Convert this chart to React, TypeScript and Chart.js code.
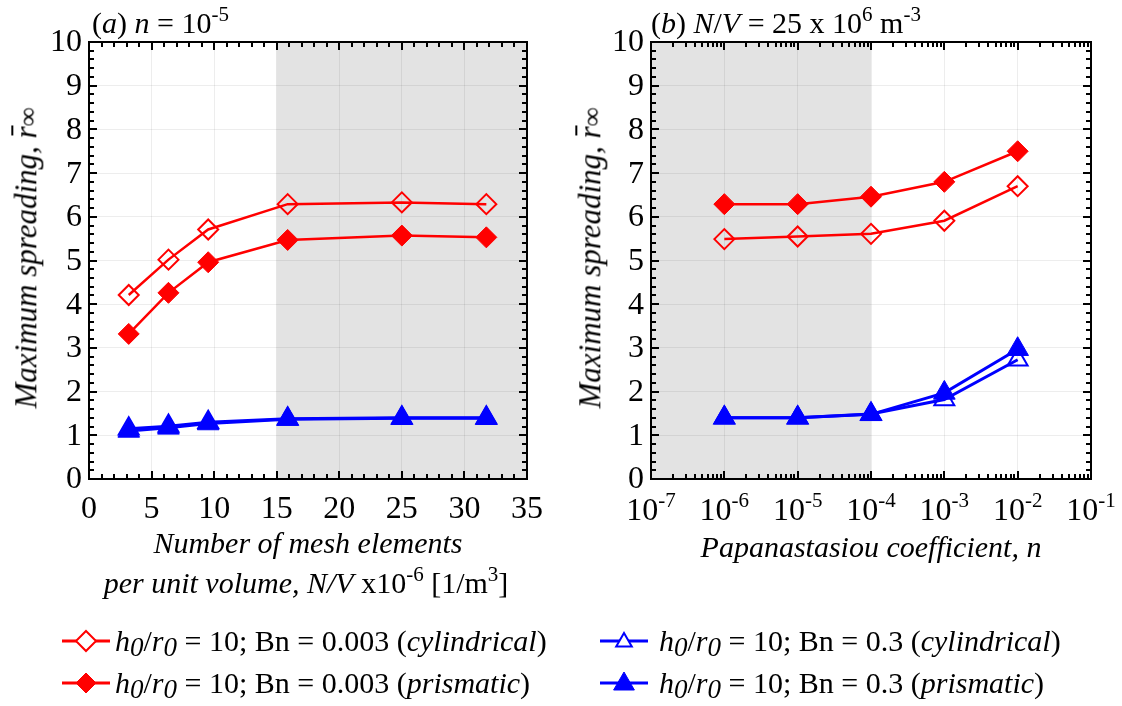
import React, { useEffect, useRef } from 'react';
import { Chart, registerables } from 'chart.js';

Chart.register(...registerables);

const FONT = "'Liberation Serif', 'Times New Roman', Times, serif";

// ---------- Panel (a): mesh density ----------
const meshX = [3.175, 6.35, 9.525, 15.875, 25, 31.75];
const aRedCyl = [4.21, 5.02, 5.71, 6.29, 6.33, 6.29];
const aRedPri = [3.32, 4.26, 4.96, 5.47, 5.57, 5.53];
const aBlueCyl = [1.15, 1.21, 1.3, 1.38, 1.4, 1.4];
const aBluePri = [1.1, 1.17, 1.27, 1.37, 1.39, 1.39];
const aXTicks = [0, 5, 10, 15, 20, 25, 30, 35];
const aShade = [15, 35];

// ---------- Panel (b): Papanastasiou coefficient ----------
const papN = [1e-6, 1e-5, 1e-4, 1e-3, 1e-2];
const bRedCyl = [5.49, 5.55, 5.61, 5.91, 6.7];
const bRedPri = [6.29, 6.29, 6.46, 6.8, 7.5];
const bBlueCyl = [1.4, 1.4, 1.49, 1.82, 2.73];
const bBluePri = [1.4, 1.4, 1.48, 1.97, 2.97];
const bXExps = [-7, -6, -5, -4, -3, -2, -1];
const bShade = [1e-7, 1e-4];

const yTicks = [0, 1, 2, 3, 4, 5, 6, 7, 8, 9, 10];

const RED = '#ff0000';
const BLUE = '#0000ff';
const CLEAR = 'rgba(255,255,255,0)';

type Box = { left: number; right: number; top: number; bottom: number };
const CANVAS_W = 561;
const CANVAS_H = 706;
const AREA_A: Box = { left: 89, right: 527, top: 42, bottom: 479 };
const AREA_B: Box = { left: 651 - 561, right: 1091 - 561, top: 42, bottom: 479 };
const TICK_FONT = 32;

function series(xs: number[], ys: number[]) {
  return xs.map((x, i) => ({ x, y: ys[i] }));
}

function datasets(xs: number[], rc: number[], rp: number[], bc: number[], bp: number[]) {
  return [
    {
      label: 'red-cyl', data: series(xs, rc), borderColor: RED, borderWidth: 2.5,
      pointStyle: 'rectRot', pointRadius: 10, pointBorderWidth: 2,
      pointBorderColor: RED, pointBackgroundColor: CLEAR, tension: 0,
    },
    {
      label: 'red-pri', data: series(xs, rp), borderColor: RED, borderWidth: 2.5,
      pointStyle: 'rectRot', pointRadius: 10.5, pointBorderWidth: 1,
      pointBorderColor: RED, pointBackgroundColor: RED, tension: 0,
    },
    {
      label: 'blue-cyl', data: series(xs, bc), borderColor: BLUE, borderWidth: 3,
      pointStyle: 'triangle', pointRadius: 11.5, pointBorderWidth: 2,
      pointBorderColor: BLUE, pointBackgroundColor: CLEAR, tension: 0,
    },
    {
      label: 'blue-pri', data: series(xs, bp), borderColor: BLUE, borderWidth: 3,
      pointStyle: 'triangle', pointRadius: 12.5, pointBorderWidth: 1,
      pointBorderColor: BLUE, pointBackgroundColor: BLUE, tension: 0,
    },
  ];
}

function decoPlugin(shade: number[], log: boolean) {
  return {
    id: 'deco',
    beforeDraw(chart: any) {
      const { ctx, chartArea: a } = chart;
      const x = chart.scales.x;
      const x0 = x.getPixelForValue(shade[0]);
      const x1 = x.getPixelForValue(shade[1]);
      ctx.save();
      ctx.fillStyle = '#e3e3e3';
      ctx.fillRect(x0, a.top, x1 - x0, a.bottom - a.top);
      ctx.restore();
    },
    afterDraw(chart: any) {
      const { ctx, chartArea: a } = chart;
      const xs = chart.scales.x;
      const ys = chart.scales.y;
      const MAJ = 8;
      const MIN = 5;
      ctx.save();
      ctx.strokeStyle = '#000';
      ctx.lineWidth = 2;
      ctx.lineCap = 'butt';
      // x ticks
      const xMaj: number[] = xs.ticks.map((t: any) => t.value);
      const xMin: number[] = [];
      if (log) {
        for (let i = 0; i < xMaj.length - 1; i++) {
          for (let k = 2; k <= 9; k++) xMin.push(xMaj[i] * k);
        }
      } else {
        for (let v = xs.min; v <= xs.max + 1e-9; v += 1) {
          if (!xMaj.some((m) => Math.abs(m - v) < 1e-9)) xMin.push(v);
        }
      }
      const vtick = (px: number, len: number) => {
        ctx.beginPath();
        ctx.moveTo(px, a.bottom);
        ctx.lineTo(px, a.bottom - len);
        ctx.moveTo(px, a.top);
        ctx.lineTo(px, a.top + len);
        ctx.stroke();
      };
      xMaj.forEach((v) => vtick(Math.round(xs.getPixelForValue(v)), MAJ));
      xMin.forEach((v) => vtick(Math.round(xs.getPixelForValue(v)), MIN));
      // y ticks
      const yMaj: number[] = ys.ticks.map((t: any) => t.value);
      const yMin: number[] = [];
      for (let i = 0; i < yMaj.length - 1; i++) {
        for (let k = 1; k < 5; k++) yMin.push(yMaj[i] + (k * (yMaj[i + 1] - yMaj[i])) / 5);
      }
      const htick = (py: number, len: number) => {
        ctx.beginPath();
        ctx.moveTo(a.left, py);
        ctx.lineTo(a.left + len, py);
        ctx.moveTo(a.right, py);
        ctx.lineTo(a.right - len, py);
        ctx.stroke();
      };
      yMaj.forEach((v) => htick(Math.round(ys.getPixelForValue(v)), MAJ));
      yMin.forEach((v) => htick(Math.round(ys.getPixelForValue(v)), MIN));
      // frame
      ctx.strokeRect(a.left, a.top, a.right - a.left, a.bottom - a.top);

      // tick labels
      ctx.fillStyle = '#000';
      ctx.font = `${TICK_FONT}px ${FONT}`;
      ctx.textAlign = 'right';
      ctx.textBaseline = 'middle';
      yMaj.forEach((v) => ctx.fillText(String(v), a.left - 7, ys.getPixelForValue(v) + 1));
      ctx.textBaseline = 'alphabetic';
      if (!log) {
        ctx.textAlign = 'center';
        xMaj.forEach((v) => ctx.fillText(String(v), xs.getPixelForValue(v), a.bottom + 39));
      } else {
        ctx.textAlign = 'left';
        xMaj.forEach((v) => {
          const e = Math.round(Math.log10(v));
          const base = '10';
          const sup = String(e);
          ctx.font = `${TICK_FONT}px ${FONT}`;
          const wb = ctx.measureText(base).width;
          ctx.font = `21px ${FONT}`;
          const ws = ctx.measureText(sup).width;
          const px = xs.getPixelForValue(v);
          const x0 = px - (wb + ws) / 2;
          ctx.font = `${TICK_FONT}px ${FONT}`;
          ctx.fillText(base, x0, a.bottom + 41);
          ctx.font = `21px ${FONT}`;
          ctx.fillText(sup, x0 + wb, a.bottom + 28);
        });
      }
      ctx.restore();
    },
  };
}

function makeConfig(
  area: Box,
  xScale: any,
  data: any[],
  shade: number[],
  log: boolean,
) {
  return {
    type: 'line' as const,
    data: { datasets: data },
    options: {
      responsive: false,
      animation: false,
      devicePixelRatio: 1,
      layout: {
        padding: {
          left: area.left,
          right: CANVAS_W - area.right,
          top: area.top,
          bottom: CANVAS_H - area.bottom,
        },
      },
      plugins: { legend: { display: false }, tooltip: { enabled: false } },
      scales: {
        x: {
          ...xScale,
          grid: { color: 'rgba(0,0,0,0.07)', lineWidth: 1, drawTicks: false },
          border: { display: false },
          afterFit: (s: any) => {
            s.height = 0;
          },
        },
        y: {
          type: 'linear',
          min: yTicks[0],
          max: yTicks[yTicks.length - 1],
          ticks: { display: false, stepSize: 1 },
          afterBuildTicks: (s: any) => {
            s.ticks = yTicks.map((v) => ({ value: v }));
          },
          grid: { color: 'rgba(0,0,0,0.07)', lineWidth: 1, drawTicks: false },
          border: { display: false },
          afterFit: (s: any) => {
            s.width = 0;
          },
        },
      },
    },
    plugins: [decoPlugin(shade, log)],
  };
}

function Panel({ left, config }: { left: number; config: any }) {
  const ref = useRef<HTMLCanvasElement | null>(null);
  useEffect(() => {
    if (!ref.current) return;
    const chart = new Chart(ref.current, config);
    return () => chart.destroy();
  }, []);
  return (
    <canvas
      ref={ref}
      width={CANVAS_W}
      height={CANVAS_H}
      style={{ position: 'absolute', left, top: 0, width: CANVAS_W, height: CANVAS_H }}
    />
  );
}

const txt: React.CSSProperties = {
  position: 'absolute',
  fontFamily: FONT,
  color: '#000',
  whiteSpace: 'nowrap',
  lineHeight: 1,
};

const SUP: React.CSSProperties = { fontSize: '0.7em', verticalAlign: '0.55em', lineHeight: 0 };

function YTitle({ cx }: { cx: number }) {
  return (
    <div
      style={{
        ...txt,
        left: cx,
        top: 258,
        fontSize: 31,
        fontStyle: 'italic',
        transform: 'translate(-50%, -50%) rotate(-90deg)',
      }}
    >
      Maximum spreading,{' '}
      <span style={{ position: 'relative', display: 'inline-block' }}>
        r
        <span
          style={{
            position: 'absolute',
            left: '0.08em',
            right: '-0.02em',
            top: '0.02em',
            borderTop: '2px solid #000',
          }}
        />
      </span>
      <span style={{ fontSize: '0.85em' }}>∞</span>
    </div>
  );
}

function Marker({ kind }: { kind: 'rc' | 'rp' | 'bc' | 'bp' }) {
  const col = kind[0] === 'r' ? RED : BLUE;
  const filled = kind[1] === 'p';
  let shape;
  if (kind[0] === 'r') {
    const r = 10;
    shape = (
      <polygon
        points={`24,${12 - r} ${24 + r},12 24,${12 + r} ${24 - r},12`}
        fill={filled ? col : '#fff'}
        stroke={col}
        strokeWidth={filled ? 1 : 2}
      />
    );
  } else {
    const r = filled ? 12 : 9;
    const cy = 13;
    shape = (
      <polygon
        points={`24,${cy - r} ${24 + r * 0.866},${cy + r / 2} ${24 - r * 0.866},${cy + r / 2}`}
        fill={filled ? col : '#fff'}
        stroke={col}
        strokeWidth={filled ? 1 : 2}
      />
    );
  }
  return (
    <svg width={48} height={24} style={{ display: 'block' }}>
      <line x1={0} y1={12} x2={48} y2={12} stroke={col} strokeWidth={3} />
      {shape}
    </svg>
  );
}

function LegendItem({
  x, tx, y, kind, bn, shape,
}: { x: number; tx: number; y: number; kind: 'rc' | 'rp' | 'bc' | 'bp'; bn: string; shape: string }) {
  return (
    <>
      <div style={{ position: 'absolute', left: x, top: y - 12 }}>
        <Marker kind={kind} />
      </div>
      <div style={{ ...txt, left: tx, top: y, fontSize: 30, transform: 'translateY(-50%)' }}>
        <i>h</i>
        <i style={{ fontSize: '0.9em', position: 'relative', top: '0.18em' }}>0</i>
        /<i>r</i>
        <i style={{ fontSize: '0.9em', position: 'relative', top: '0.18em' }}>0</i> = 10; Bn = {bn} (
        <i>{shape}</i>)
      </div>
    </>
  );
}

export default function App() {
  const cfgA = makeConfig(
    AREA_A,
    { type: 'linear', min: aXTicks[0], max: aXTicks[aXTicks.length - 1], ticks: { display: false, stepSize: 5 },
      afterBuildTicks: (s: any) => { s.ticks = aXTicks.map((v) => ({ value: v })); } },
    datasets(meshX, aRedCyl, aRedPri, aBlueCyl, aBluePri),
    aShade,
    false,
  );
  const cfgB = makeConfig(
    AREA_B,
    {
      type: 'logarithmic',
      min: Math.pow(10, bXExps[0]),
      max: Math.pow(10, bXExps[bXExps.length - 1]),
      ticks: { display: false },
      afterBuildTicks: (s: any) => {
        s.ticks = bXExps.map((e) => ({ value: Math.pow(10, e), major: true }));
      },
    },
    datasets(papN, bRedCyl, bRedPri, bBlueCyl, bBluePri),
    bShade,
    true,
  );
  return (
    <div style={{ position: 'absolute', left: 0, top: 0, width: 1122, height: 706, background: '#fff', overflow: 'hidden' }}>
      <Panel left={0} config={cfgA} />
      <Panel left={561} config={cfgB} />

      {/* panel titles */}
      <div style={{ ...txt, left: 92, top: 23, fontSize: 30, transform: 'translateY(-50%)' }}>
        (<i>a</i>) <i>n</i> = 10<span style={SUP}>-5</span>
      </div>
      <div style={{ ...txt, left: 651, top: 23, fontSize: 30, transform: 'translateY(-50%)' }}>
        (<i>b</i>) <i>N</i>/<i>V</i> = 25 x 10<span style={SUP}>6</span> m<span style={SUP}>-3</span>
      </div>

      {/* y titles */}
      <YTitle cx={26} />
      <YTitle cx={590} />

      {/* x titles */}
      <div style={{ ...txt, left: 308, top: 543, fontSize: 30, fontStyle: 'italic', transform: 'translate(-50%, -50%)' }}>
        Number of mesh elements
      </div>
      <div style={{ ...txt, left: 306, top: 583, fontSize: 30, transform: 'translate(-50%, -50%)' }}>
        <i>per unit volume, N/V</i> x10<span style={SUP}>-6</span> [1/m<span style={SUP}>3</span>]
      </div>
      <div style={{ ...txt, left: 871, top: 547, fontSize: 30, fontStyle: 'italic', transform: 'translate(-50%, -50%)' }}>
        Papanastasiou coefficient, <i>n</i>
      </div>

      {/* legend */}
      <LegendItem x={62} tx={115} y={641} kind="rc" bn="0.003" shape="cylindrical" />
      <LegendItem x={62} tx={115} y={683} kind="rp" bn="0.003" shape="prismatic" />
      <LegendItem x={600} tx={659} y={641} kind="bc" bn="0.3" shape="cylindrical" />
      <LegendItem x={600} tx={659} y={683} kind="bp" bn="0.3" shape="prismatic" />
    </div>
  );
}
